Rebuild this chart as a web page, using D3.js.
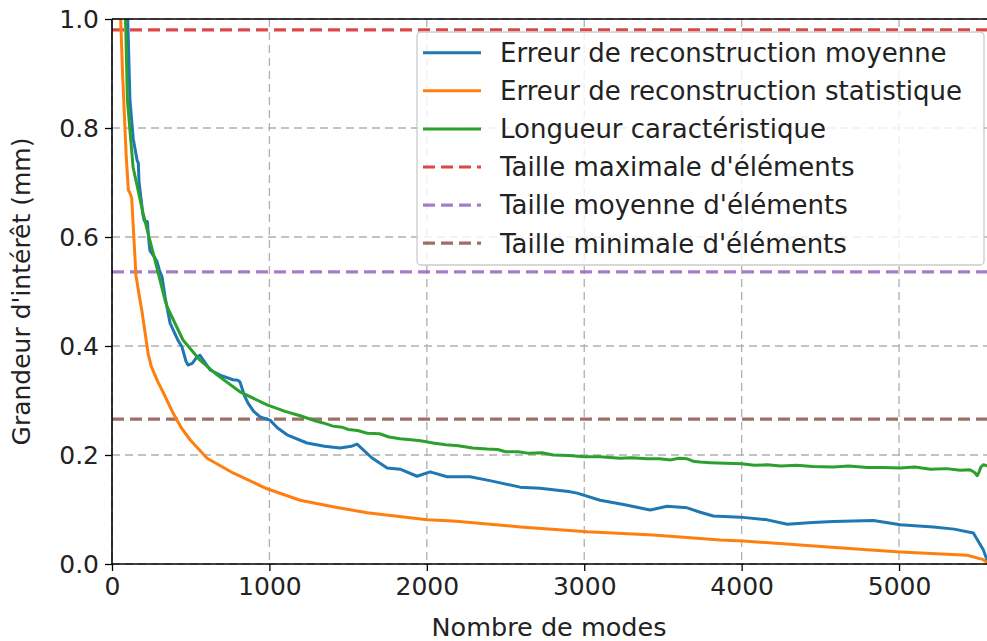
<!DOCTYPE html>
<html>
<head>
<meta charset="utf-8">
<script src="https://cdn.jsdelivr.net/npm/d3@7"></script>
<style>
  html, body { margin: 0; padding: 0; background: #fff; }
  svg { display: block; font-family: "DejaVu Sans", sans-serif; }
</style>
</head>
<body>
<svg id="chart" width="987" height="641"></svg>
<script>
// ---------- data ----------
const xTicks = [0, 1000, 2000, 3000, 4000, 5000];
const yTicks = [0.0, 0.2, 0.4, 0.6, 0.8, 1.0];
const seriesNames = [
  "Erreur de reconstruction moyenne",
  "Erreur de reconstruction statistique",
  "Longueur caractéristique",
  "Taille maximale d'éléments",
  "Taille moyenne d'éléments",
  "Taille minimale d'éléments"
];
const moyenneX = [90, 100, 114, 135, 160, 167, 172, 197, 205, 225, 232, 241, 265, 286, 300, 318, 337, 369, 420, 445, 470, 483, 510, 540, 559, 590, 623, 700, 769, 800, 813, 840, 864, 900, 941, 1004, 1050, 1112, 1239, 1350, 1449, 1520, 1557, 1650, 1748, 1830, 1938, 2021, 2129, 2275, 2400, 2593, 2720, 2900, 2955, 3101, 3250, 3419, 3527, 3654, 3737, 3820, 3991, 4163, 4290, 4450, 4582, 4837, 5008, 5218, 5350, 5472, 5535, 5562];
const moyenneY = [1.08, 1.0, 0.851, 0.78, 0.74, 0.736, 0.70, 0.64, 0.63, 0.628, 0.60, 0.575, 0.565, 0.555, 0.54, 0.527, 0.49, 0.442, 0.41, 0.398, 0.372, 0.365, 0.368, 0.38, 0.383, 0.37, 0.356, 0.345, 0.338, 0.337, 0.334, 0.31, 0.295, 0.28, 0.270, 0.264, 0.25, 0.237, 0.222, 0.216, 0.213, 0.216, 0.220, 0.195, 0.176, 0.174, 0.161, 0.169, 0.160, 0.160, 0.153, 0.141, 0.139, 0.133, 0.130, 0.117, 0.109, 0.099, 0.106, 0.103, 0.095, 0.088, 0.086, 0.081, 0.073, 0.076, 0.078, 0.080, 0.072, 0.068, 0.064, 0.057, 0.026, 0.005];
const statX = [50, 55, 68, 90, 104, 112, 125, 152, 178, 189, 230, 250, 290, 330, 388, 440, 496, 604, 769, 985, 1195, 1404, 1621, 2002, 2167, 2593, 3019, 3438, 3864, 4010, 4372, 4798, 5008, 5434, 5535, 5562];
const statY = [1.08, 1.0, 0.894, 0.75, 0.686, 0.682, 0.672, 0.530, 0.484, 0.466, 0.385, 0.362, 0.335, 0.312, 0.277, 0.250, 0.228, 0.194, 0.167, 0.138, 0.117, 0.105, 0.094, 0.081, 0.079, 0.068, 0.059, 0.053, 0.044, 0.042, 0.035, 0.026, 0.022, 0.016, 0.008, 0.003];
const longueurX = [78, 86, 98, 134, 197, 261, 337, 350, 451, 559, 667, 813, 985, 1100, 1195, 1300, 1350, 1404, 1460, 1500, 1560, 1621, 1700, 1760, 1830, 1900, 1960, 2040, 2120, 2200, 2290, 2383, 2450, 2500, 2580, 2650, 2730, 2803, 2900, 3000, 3100, 3229, 3300, 3400, 3480, 3550, 3600, 3654, 3700, 3737, 3800, 3900, 4000, 4080, 4163, 4250, 4350, 4450, 4582, 4680, 4800, 4900, 5008, 5100, 5200, 5300, 5389, 5450, 5480, 5497, 5510, 5520, 5535, 5562];
const longueurY = [1.08, 1.0, 0.851, 0.728, 0.644, 0.571, 0.484, 0.472, 0.411, 0.374, 0.347, 0.316, 0.292, 0.280, 0.272, 0.262, 0.258, 0.253, 0.251, 0.247, 0.245, 0.240, 0.239, 0.233, 0.230, 0.228, 0.226, 0.222, 0.219, 0.217, 0.213, 0.211, 0.210, 0.206, 0.206, 0.203, 0.204, 0.200, 0.199, 0.197, 0.197, 0.194, 0.195, 0.193, 0.193, 0.191, 0.194, 0.193, 0.188, 0.187, 0.186, 0.185, 0.184, 0.181, 0.182, 0.180, 0.181, 0.179, 0.178, 0.180, 0.177, 0.177, 0.176, 0.178, 0.174, 0.175, 0.172, 0.173, 0.168, 0.162, 0.170, 0.178, 0.182, 0.180];
const tailleMax = 0.980;
const tailleMoy = 0.536;
const tailleMin = 0.266;
const xMax = 5565;

// ---------- layout ----------
const svg = d3.select("#chart");
const L = 112, T = 19, R = 988, B = 564;
const x = d3.scaleLinear().domain([0, xMax]).range([L, R]);
const y = d3.scaleLinear().domain([0, 1]).range([B, T]);
const colors = ["#1f77b4", "#ff7f0e", "#2ca02c", "#d62728", "#9467bd", "#8c564b"];

svg.append("defs").append("clipPath").attr("id", "clip")
  .append("rect").attr("x", L).attr("y", T).attr("width", R - L).attr("height", B - T);

// grid
const grid = svg.append("g").attr("stroke", "#b0b0b0").attr("stroke-width", 1.3).attr("stroke-dasharray", "8,5");
grid.selectAll(".gx").data(xTicks).join("line")
  .attr("x1", d => x(d)).attr("x2", d => x(d)).attr("y1", T).attr("y2", B);
grid.selectAll(".gy").data(yTicks).join("line")
  .attr("x1", L).attr("x2", R).attr("y1", d => y(d)).attr("y2", d => y(d));

const plot = svg.append("g").attr("clip-path", "url(#clip)");
const line = d3.line().x(d => x(d[0])).y(d => y(d[1]));

// horizontal reference lines
[[tailleMax, 3], [tailleMoy, 4], [tailleMin, 5]].forEach(([v, i]) => {
  plot.append("line").attr("x1", L).attr("x2", R).attr("y1", y(v)).attr("y2", y(v))
    .attr("stroke", colors[i]).attr("stroke-width", 3.2).attr("stroke-dasharray", "12,6")
    .attr("stroke-opacity", 0.85);
});

const seriesData = [
  d3.zip(moyenneX, moyenneY),
  d3.zip(statX, statY),
  d3.zip(longueurX, longueurY)
];
seriesData.forEach((s, i) => {
  plot.append("path").datum(s).attr("d", line).attr("fill", "none")
    .attr("stroke", colors[i]).attr("stroke-width", 3).attr("stroke-linejoin", "round");
});

// axes
const fs = 25;
const xAxis = d3.axisBottom(x).tickValues(xTicks).tickFormat(d3.format("d")).tickSizeOuter(0).tickSize(7).tickPadding(6);
const yAxis = d3.axisLeft(y).tickValues(yTicks).tickFormat(d3.format(".1f")).tickSizeOuter(0).tickSize(7).tickPadding(6);
const gx = svg.append("g").attr("transform", `translate(0,${B})`).call(xAxis);
const gy = svg.append("g").attr("transform", `translate(${L},0)`).call(yAxis);
[gx, gy].forEach(g => {
  g.select(".domain").remove();
  g.selectAll(".tick line").attr("stroke", "#000").attr("stroke-width", 1.3);
  g.selectAll(".tick text").attr("fill", "#222").attr("font-size", fs).attr("font-family", "DejaVu Sans");
});

// spines
const spines = svg.append("g").attr("stroke", "#000").attr("stroke-width", 1.6).attr("fill", "none");
spines.append("line").attr("x1", L).attr("x2", L).attr("y1", T).attr("y2", B);
spines.append("line").attr("x1", L).attr("x2", R).attr("y1", B).attr("y2", B);
spines.append("line").attr("x1", L).attr("x2", R).attr("y1", T).attr("y2", T);
spines.append("line").attr("x1", R).attr("x2", R).attr("y1", T).attr("y2", B);

// axis titles
svg.append("text").attr("x", (L + R) / 2 - 1).attr("y", 636).attr("text-anchor", "middle")
  .attr("font-size", 25.5).attr("fill", "#222").text("Nombre de modes");
svg.append("text").attr("transform", `translate(30,${(T + B) / 2}) rotate(-90)`)
  .attr("text-anchor", "middle").attr("font-size", fs).attr("fill", "#222").text("Grandeur d'intérêt (mm)");

// legend
const lg = svg.append("g");
lg.append("rect").attr("x", 417).attr("y", 32).attr("width", 567).attr("height", 233).attr("rx", 4)
  .attr("fill", "#fff").attr("fill-opacity", 0.8).attr("stroke", "#ccc").attr("stroke-width", 1.3);
seriesNames.forEach((name, i) => {
  const yy = 52.7 + i * 38.1;
  lg.append("line").attr("x1", 423).attr("x2", 481).attr("y1", yy).attr("y2", yy)
    .attr("stroke", colors[i]).attr("stroke-width", i < 3 ? 3 : 3.2)
    .attr("stroke-dasharray", i < 3 ? null : "12,6").attr("stroke-opacity", i < 3 ? 1 : 0.85);
  lg.append("text").attr("x", 500).attr("y", yy).attr("dy", "0.36em")
    .attr("font-size", 26).attr("fill", "#222").text(name);
});
</script>
</body>
</html>
